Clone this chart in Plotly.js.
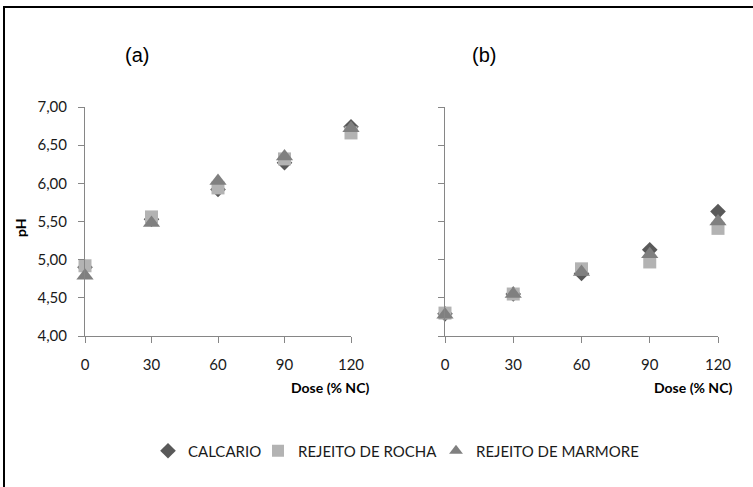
<!DOCTYPE html>
<html>
<head>
<meta charset="utf-8">
<script src="https://cdn.plot.ly/plotly-3.0.1.min.js"></script>
<style>html,body{margin:0;padding:0;background:#fff;}#chart{width:753px;height:487px;}</style>
</head>
<body>
<div id="chart"></div>
<script>
// Data
var doses = [0, 30, 60, 90, 120];
var seriesNames = ["CALCARIO", "REJEITO DE ROCHA", "REJEITO DE MARMORE"];
// Panel (a)
var calcarioA = [4.90, 5.53, 5.92, 6.27, 6.74];
var rochaA    = [4.92, 5.56, 5.94, 6.32, 6.66];
var marmoreA  = [4.79, 5.48, 6.03, 6.35, 6.72];
// Panel (b)
var calcarioB = [4.29, 4.55, 4.82, 5.13, 5.63];
var rochaB    = [4.30, 4.55, 4.88, 4.97, 5.41];
var marmoreB  = [4.28, 4.55, 4.84, 5.07, 5.50];
var yTicks = [4.0, 4.5, 5.0, 5.5, 6.0, 6.5, 7.0];
var panelLabels = ["(a)", "(b)"];

var W = 753, H = 487;
function px(x){ return x / W; }
function py(y){ return 1 - y / H; }

var colors = ["#595959", "#b3b3b3", "#808080"];
var symbols = ["diamond", "square", "triangle-up"];
var sizes = [12, 13, 15];
var legendIds = ["legend", "legend2", "legend3"];
var legendX = [148, 258, 436];

var dataA = [calcarioA, rochaA, marmoreA];
var dataB = [calcarioB, rochaB, marmoreB];
var traces = [];
for (var i = 0; i < 3; i++) {
  traces.push({
    x: doses, y: dataA[i], type: "scatter", mode: "markers",
    name: seriesNames[i], legendgroup: seriesNames[i], showlegend: true, legend: legendIds[i],
    xaxis: "x", yaxis: "y", cliponaxis: false,
    marker: {symbol: symbols[i], color: colors[i], size: sizes[i], line: {width: 0}}
  });
}
for (var i = 0; i < 3; i++) {
  traces.push({
    x: doses, y: dataB[i], type: "scatter", mode: "markers",
    name: seriesNames[i], legendgroup: seriesNames[i], showlegend: false,
    xaxis: "x2", yaxis: "y2", cliponaxis: false,
    marker: {symbol: symbols[i], color: colors[i], size: sizes[i], line: {width: 0}}
  });
}

var tickFont = {family: "Lato, 'Open Sans', sans-serif", size: 15, color: "#1a1a1a"};
function xAx(d0, d1, anchor){
  return {
    domain: [px(d0), px(d1)], range: [0, 120], anchor: anchor,
    tickvals: doses, ticktext: doses.map(String),
    showgrid: false, zeroline: false, showline: true, linecolor: "#868686", linewidth: 1,
    ticks: "outside", ticklen: 6, tickcolor: "#868686", tickwidth: 1,
    tickfont: tickFont, ticklabelstandoff: 9, fixedrange: true
  };
}
function yAx(anchor, showLabels){
  return {
    domain: [py(336), py(107)], range: [4, 7], anchor: anchor,
    tickvals: yTicks, tickformat: ".2f",
    showgrid: false, zeroline: false, showline: true, linecolor: "#868686", linewidth: 1,
    ticks: "outside", ticklen: 6, tickcolor: "#868686", tickwidth: 1,
    showticklabels: showLabels, tickfont: tickFont, ticklabelstandoff: 8, fixedrange: true
  };
}
function legendOf(xpx){
  return {
    orientation: "h", x: px(xpx), xanchor: "left", y: py(451), yanchor: "middle",
    font: {family: "Lato, 'Open Sans', sans-serif", size: 15, color: "#1a1a1a"},
    itemwidth: 30, itemsizing: "constant", bgcolor: "rgba(0,0,0,0)"
  };
}

var layout = {
  width: W, height: H,
  margin: {l: 0, r: 0, t: 0, b: 0},
  paper_bgcolor: "#ffffff", plot_bgcolor: "rgba(0,0,0,0)",
  separators: ",.",
  xaxis: xAx(85, 351, "y"),
  yaxis: yAx("x", true),
  xaxis2: xAx(445, 718, "y2"),
  yaxis2: yAx("x2", false),
  showlegend: true,
  legend: legendOf(legendX[0]),
  legend2: legendOf(legendX[1]),
  legend3: legendOf(legendX[2]),
  annotations: [
    {text: panelLabels[0], xref: "paper", yref: "paper", x: px(137), y: py(55), xanchor: "center", yanchor: "middle", showarrow: false,
     font: {family: "'Liberation Sans', Arial, sans-serif", size: 20, color: "#000"}},
    {text: panelLabels[1], xref: "paper", yref: "paper", x: px(484), y: py(55), xanchor: "center", yanchor: "middle", showarrow: false,
     font: {family: "'Liberation Sans', Arial, sans-serif", size: 20, color: "#000"}},
    {text: "<b>Dose (% NC)</b>", xref: "paper", yref: "paper", x: px(371), y: py(387), xanchor: "right", yanchor: "middle", showarrow: false,
     font: {family: "Lato, 'Open Sans', sans-serif", size: 14, color: "#000"}},
    {text: "<b>Dose (% NC)</b>", xref: "paper", yref: "paper", x: px(734), y: py(387), xanchor: "right", yanchor: "middle", showarrow: false,
     font: {family: "Lato, 'Open Sans', sans-serif", size: 14, color: "#000"}},
    {text: "<b>pH</b>", xref: "paper", yref: "paper", x: px(20), y: py(228), xanchor: "center", yanchor: "middle", showarrow: false, textangle: -90,
     font: {family: "Lato, 'Open Sans', sans-serif", size: 14, color: "#000"}}
  ],
  shapes: [
    {type: "line", xref: "paper", yref: "paper", x0: px(3), x1: 1, y0: py(7), y1: py(7), line: {color: "#000", width: 2}},
    {type: "line", xref: "paper", yref: "paper", x0: px(4), x1: px(4), y0: py(6), y1: 0, line: {color: "#000", width: 2}}
  ]
};

Plotly.newPlot("chart", traces, layout, {displayModeBar: false, staticPlot: true});
</script>
</body>
</html>
